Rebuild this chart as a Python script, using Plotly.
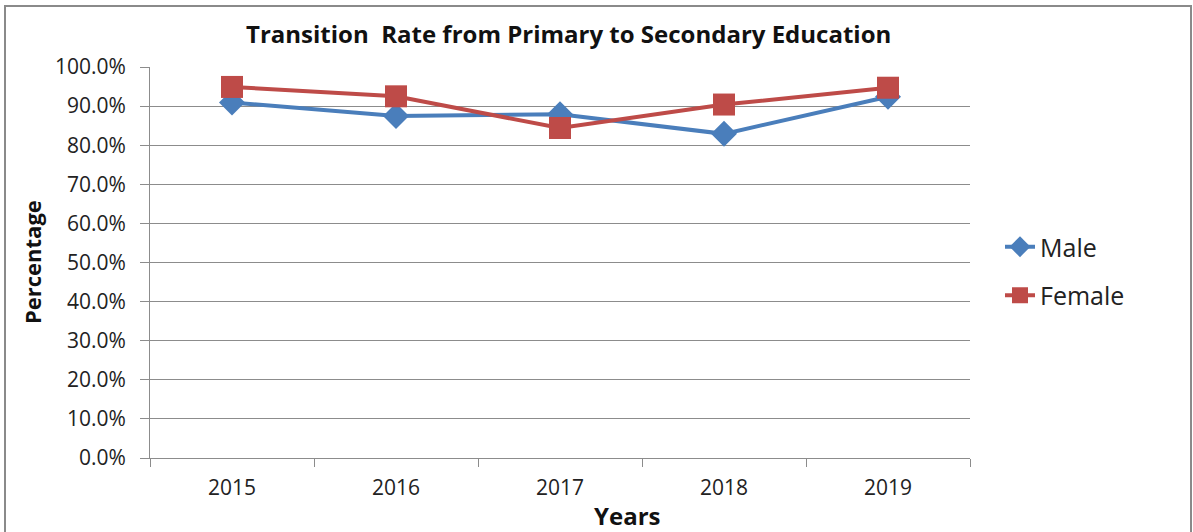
import plotly.graph_objects as go

years = ["2015", "2016", "2017", "2018", "2019"]
male = [0.909, 0.875, 0.879, 0.829, 0.924]
female = [0.949, 0.925, 0.844, 0.904, 0.947]

FONT = "'Open Sans', sans-serif"
BLUE = "#4A7EBB"
RED = "#BE4B48"
GRID = "#8C8C8C"

fig = go.Figure()
fig.add_trace(go.Scatter(
    x=years, y=male, name="Male", mode="lines+markers", legendgroup="m",
    line=dict(color=BLUE, width=4),
    marker=dict(symbol="diamond", size=20, color=BLUE),
))
fig.add_trace(go.Scatter(
    x=years, y=female, name="Female", mode="lines+markers", legendgroup="f",
    line=dict(color=RED, width=4),
    marker=dict(symbol="square", size=22, color=RED),
))

W, H = 1193, 532
L, R, T, B = 150, 223, 67, 74
pw, ph = W - L - R, H - T - B

def px(x):
    return (x - L) / pw

def py(y):
    return (H - B - y) / ph

fig.update_layout(
    width=W, height=H,
    margin=dict(l=L, r=R, t=T, b=B),
    paper_bgcolor="white", plot_bgcolor="white",
    font=dict(family=FONT, color="#222222", size=21),
    showlegend=True,
    legend=dict(
        x=px(1000), y=py(224), xanchor="left", yanchor="top",
        font=dict(size=25, color="#222222"),
        tracegroupgap=13,
        bgcolor="rgba(0,0,0,0)",
    ),
    xaxis=dict(
        type="category", tickson="boundaries", ticks="outside", ticklen=8,
        tickcolor=GRID, showline=True, linecolor=GRID, linewidth=1,
        showgrid=False, tickfont=dict(size=21), range=[-0.5, 4.5],
        ticklabelstandoff=11,
    ),
    yaxis=dict(
        range=[0, 1], dtick=0.1, tickformat=".1%", ticks="outside",
        ticklen=9, tickcolor=GRID, showline=True, linecolor=GRID,
        linewidth=1, showgrid=True, gridcolor=GRID, gridwidth=1,
        tickfont=dict(size=21), zeroline=False, ticklabelstandoff=10,
    ),
    annotations=[
        dict(text="<b>Transition  Rate from Primary to Secondary Education</b>",
             x=px(568), y=py(33), xref="paper", yref="paper",
             xanchor="center", yanchor="middle",
             showarrow=False, font=dict(size=24, color="#111111")),
        dict(text="<b>Percentage</b>", textangle=-90,
             x=px(32), y=py(262), xref="paper", yref="paper",
             xanchor="center", yanchor="middle",
             showarrow=False, font=dict(size=22, color="#111111")),
        dict(text="<b>Years</b>",
             x=px(627), y=py(515), xref="paper", yref="paper",
             xanchor="center", yanchor="middle",
             showarrow=False, font=dict(size=24, color="#111111")),
    ],
    shapes=[
        dict(type="rect", xref="paper", yref="paper",
             x0=px(5), x1=px(1191), y0=py(545), y1=py(6),
             line=dict(color="#8A8A8A", width=2), layer="below"),
    ],
)

fig.write_html("out.html")
